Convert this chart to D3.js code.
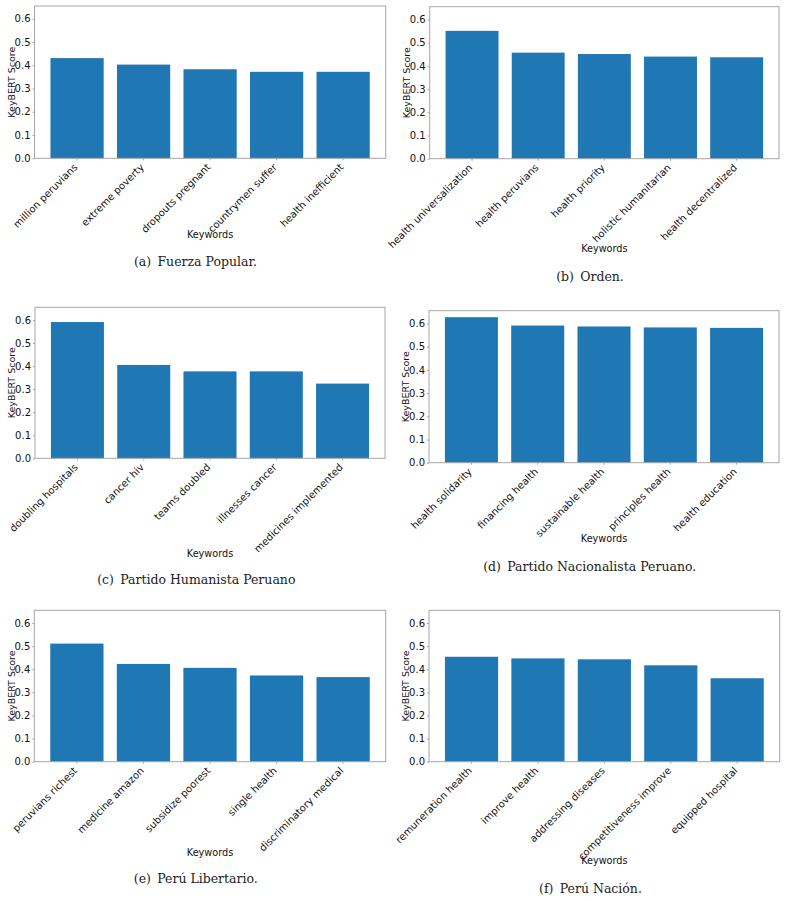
<!DOCTYPE html>
<html>
<head>
<meta charset="utf-8">
<script src="https://cdn.jsdelivr.net/npm/d3@7"></script>
<style>
  body { margin: 0; background: #fff; }
  svg { display: block; }
</style>
</head>
<body>
<svg id="chart" width="787" height="901"></svg>
<script>
// ---- Data ----
const yTicks = [0.0, 0.1, 0.2, 0.3, 0.4, 0.5, 0.6];
const yMax = 0.655;

const kwA = ["million peruvians", "extreme poverty", "dropouts pregnant", "countrymen suffer", "health inefficient"];
const valA = [0.431, 0.403, 0.383, 0.372, 0.372];

const kwB = ["health universalization", "health peruvians", "health priority", "holistic humanitarian", "health decentralized"];
const valB = [0.551, 0.457, 0.451, 0.440, 0.437];

const kwC = ["doubling hospitals", "cancer hiv", "teams doubled", "illnesses cancer", "medicines implemented"];
const valC = [0.591, 0.405, 0.377, 0.377, 0.324];

const kwD = ["health solidarity", "financing health", "sustainable health", "principles health", "health education"];
const valD = [0.627, 0.591, 0.587, 0.583, 0.581];

const kwE = ["peruvians richest", "medicine amazon", "subsidize poorest", "single health", "discriminatory medical"];
const valE = [0.511, 0.423, 0.406, 0.373, 0.366];

const kwF = ["remuneration health", "improve health", "addressing diseases", "competitiveness improve", "equipped hospital"];
const valF = [0.454, 0.447, 0.443, 0.417, 0.361];

const captionTags = ["(a)", "(b)", "(c)", "(d)", "(e)", "(f)"];
const captionTexts = ["Fuerza Popular.", "Orden.", "Partido Humanista Peruano", "Partido Nacionalista Peruano.", "Perú Libertario.", "Perú Nación."];

const xLabel = "Keywords";
const yLabel = "KeyBERT Score";

// ---- Layout (positions only) ----
const layout = [
  { L: 34.5, T: 6.0,   R: 385.7, B: 158.3, xlab: 235.0, cx: 195.5, cy: 261.7 },
  { L: 429.7, T: 6.7,  R: 779.0, B: 158.7, xlab: 248.3, cx: 590.0, cy: 276.7 },
  { L: 35.0, T: 307.3, R: 385.0, B: 458.3, xlab: 553.3, cx: 196.3, cy: 580.0 },
  { L: 429.0, T: 310.7, R: 779.0, B: 462.7, xlab: 539.0, cx: 589.7, cy: 566.7 },
  { L: 34.3, T: 610.3, R: 385.7, B: 761.7, xlab: 852.3, cx: 195.8, cy: 878.3 },
  { L: 429.0, T: 610.3, R: 779.7, B: 761.7, xlab: 860.7, cx: 590.5, cy: 888.3 }
];

const panels = [
  { kw: kwA, val: valA }, { kw: kwB, val: valB }, { kw: kwC, val: valC },
  { kw: kwD, val: valD }, { kw: kwE, val: valE }, { kw: kwF, val: valF }
];

const svg = d3.select("#chart");
const sans = "'DejaVu Sans', sans-serif";
const frameColor = "#a6a6a6";
const textColor = "#111";

panels.forEach((p, i) => {
  const lay = layout[i];
  const g = svg.append("g");

  // matplotlib-like x range: centers 0..n-1, width 0.8, 5% margins
  const n = p.kw.length;
  const lo = -0.4, hi = n - 1 + 0.4, m = (hi - lo) * 0.05;
  const x = d3.scaleLinear().domain([lo - m, hi + m]).range([lay.L, lay.R]);
  const y = d3.scaleLinear().domain([0, yMax]).range([lay.B, lay.T]);

  // bars
  g.selectAll("rect.bar").data(p.val).enter().append("rect")
    .attr("class", "bar")
    .attr("x", (d, j) => x(j - 0.4))
    .attr("width", (d, j) => x(j + 0.4) - x(j - 0.4))
    .attr("y", d => y(d))
    .attr("height", d => y(0) - y(d))
    .attr("fill", "#1f77b4");

  // frame
  g.append("rect")
    .attr("x", lay.L).attr("y", lay.T)
    .attr("width", lay.R - lay.L).attr("height", lay.B - lay.T)
    .attr("fill", "none").attr("stroke", frameColor).attr("stroke-width", 1);

  // y axis
  const yAxis = d3.axisLeft(y).tickValues(yTicks).tickFormat(d3.format(".1f"))
    .tickSize(2).tickPadding(2);
  const ya = g.append("g").attr("transform", `translate(${lay.L},0)`).call(yAxis);
  ya.select(".domain").remove();
  ya.selectAll(".tick line").attr("stroke", frameColor);
  ya.selectAll(".tick text").attr("font-family", sans).attr("font-size", 10).attr("fill", textColor);

  // x axis ticks
  const xa = g.append("g").attr("transform", `translate(0,${lay.B})`);
  xa.selectAll("line").data(p.kw).enter().append("line")
    .attr("x1", (d, j) => x(j)).attr("x2", (d, j) => x(j))
    .attr("y1", 0).attr("y2", 2).attr("stroke", frameColor);
  xa.selectAll("text").data(p.kw).enter().append("text")
    .attr("transform", (d, j) => `translate(${x(j) + 1},${9.5})rotate(-45)`)
    .attr("text-anchor", "end")
    .attr("font-family", sans).attr("font-size", 10).attr("fill", textColor)
    .text(d => d);

  // axis labels
  g.append("text")
    .attr("x", (lay.L + lay.R) / 2).attr("y", lay.xlab).attr("dy", "0.35em")
    .attr("text-anchor", "middle").attr("font-family", sans).attr("font-size", 9.7).attr("fill", textColor)
    .text(xLabel);
  g.append("text")
    .attr("transform", `translate(${lay.L - 23},${(lay.T + lay.B) / 2})rotate(-90)`)
    .attr("dy", "0.35em")
    .attr("text-anchor", "middle").attr("font-family", sans).attr("font-size", 9.5).attr("fill", textColor)
    .text(yLabel);

  // caption
  g.append("text")
    .attr("x", lay.cx).attr("y", lay.cy).attr("dy", "0.35em")
    .attr("text-anchor", "middle").attr("font-family", "'DejaVu Serif', serif").attr("font-size", 12.5).attr("fill", "#222")
    .text(captionTags[i] + "\u2002" + captionTexts[i]);
});
</script>
</body>
</html>
